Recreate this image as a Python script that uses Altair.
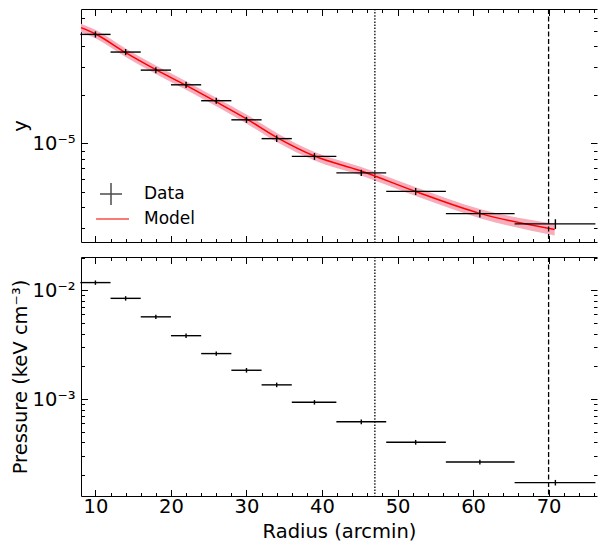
import altair as alt
import pandas as pd

# ---------------- data ----------------
radius = [10, 14, 18, 22, 26, 30, 34, 39, 45.2, 52.4, 60.9, 70.9]
radius_lo = [8, 12, 16, 20, 24, 28, 32, 36, 41.9, 48.5, 56.4, 65.5]
radius_hi = [12, 16, 20, 24, 28, 32, 36, 41.9, 48.5, 56.4, 65.5, 76.2]

y_data = [4.75e-5, 3.69e-5, 2.85e-5, 2.31e-5, 1.84e-5, 1.40e-5, 1.07e-5,
          8.3e-6, 6.56e-6, 5.03e-6, 3.66e-6, 3.16e-6]
y_err = [2.1e-6, 1.6e-6, 1.2e-6, 1.0e-6, 0.8e-6, 0.6e-6, 0.5e-6,
         0.4e-6, 0.3e-6, 0.25e-6, 0.2e-6, 0.22e-6]

pressure = [1.18e-2, 8.45e-3, 5.71e-3, 3.83e-3, 2.62e-3, 1.84e-3, 1.35e-3,
            9.33e-4, 6.17e-4, 4.0e-4, 2.63e-4, 1.70e-4]
pressure_err = [5.5e-4, 4.0e-4, 2.7e-4, 1.8e-4, 1.2e-4, 0.9e-4, 0.65e-4,
                0.45e-4, 0.3e-4, 0.2e-4, 0.13e-4, 0.1e-4]

model_radius = [8.09, 10, 14, 18, 22, 26, 30, 34, 39, 45, 52.5, 61, 70.8]
model_y = [5.23e-5, 4.78e-5, 3.66e-5, 2.87e-5, 2.29e-5, 1.81e-5, 1.42e-5,
           1.09e-5, 8.34e-6, 6.78e-6, 5.0e-6, 3.66e-6, 2.92e-6]
model_lo = [4.92e-5, 4.49e-5, 3.44e-5, 2.70e-5, 2.15e-5, 1.70e-5, 1.33e-5,
            1.02e-5, 7.84e-6, 6.37e-6, 4.69e-6, 3.42e-6, 2.68e-6]
model_hi = [5.54e-5, 5.07e-5, 3.88e-5, 3.04e-5, 2.43e-5, 1.92e-5, 1.51e-5,
            1.16e-5, 8.84e-6, 7.19e-6, 5.32e-6, 3.90e-6, 3.17e-6]

vline_dotted = [47.0]
vline_dashed = [70.0]

x_major = [10, 20, 30, 40, 50, 60, 70]
x_ticks = [10, 12, 14, 16, 18, 20, 22, 24, 26, 28, 30, 32, 34, 36, 38, 40, 42,
           44, 46, 48, 50, 52, 54, 56, 58, 60, 62, 64, 66, 68, 70, 72, 74, 76]
y_major = [1e-5]
y_ticks = [3e-6, 4e-6, 5e-6, 6e-6, 7e-6, 8e-6, 9e-6, 1e-5,
           2e-5, 3e-5, 4e-5, 5e-5, 6e-5]
p_major = [1e-3, 1e-2]
p_ticks = [2e-4, 3e-4, 4e-4, 5e-4, 6e-4, 7e-4, 8e-4, 9e-4, 1e-3,
           2e-3, 3e-3, 4e-3, 5e-3, 6e-3, 7e-3, 8e-3, 9e-3, 1e-2, 2e-2]

legend_names = ["Data", "Model"]

# ---------------- tables ----------------
data = pd.DataFrame({
    "r": radius, "r_lo": radius_lo, "r_hi": radius_hi,
    "y": y_data,
    "y_lo": [v - e for v, e in zip(y_data, y_err)],
    "y_hi": [v + e for v, e in zip(y_data, y_err)],
    "p": pressure,
    "p_lo": [v - e for v, e in zip(pressure, pressure_err)],
    "p_hi": [v + e for v, e in zip(pressure, pressure_err)],
    "series": "Data",
})
model = pd.DataFrame({"r": model_radius, "y": model_y, "lo": model_lo, "hi": model_hi})
vdot = pd.DataFrame({"r": vline_dotted})
vdash = pd.DataFrame({"r": vline_dashed})

# ---------------- styling ----------------
FONT = "DejaVu Sans"
W = 516
H_TOP = 233
H_BOT = 239
FS = 19.5
MAJ, MIN = 6.5, 3.5
X_TEST = "datum.value % 10 == 0"
Y_TEST = "abs(log(datum.value)/LN10 - round(log(datum.value)/LN10)) < 0.001"

xs = alt.Scale(domain=[8.09, 76.41], nice=False, zero=False)
ys_top = alt.Scale(type="log", domain=[2.44e-6, 6.83e-5], nice=False)
ys_bot = alt.Scale(type="log", domain=[1.28e-4, 2.03e-2], nice=False)


def tsize(test):
    return {"condition": {"test": test, "value": MAJ}, "value": MIN}


def x_axis(kind, H, show=False):
    if kind == "label":
        return alt.Axis(orient="bottom", values=x_major, ticks=False, domain=True,
                        domainColor="black", domainWidth=1,
                        labels=show, labelFontSize=FS, labelPadding=1, labelFlush=False,
                        title="Radius (arcmin)" if show else None,
                        titleFontSize=FS, titlePadding=7)
    if kind == "lower":
        return alt.Axis(orient="top", offset=-H, values=x_ticks, tickSize=tsize(X_TEST),
                        labels=False, domain=False, title=None)
    return alt.Axis(orient="bottom", offset=-H, values=x_ticks, tickSize=tsize(X_TEST),
                    labels=False, domain=True, domainColor="black", domainWidth=1, title=None)


def y_axis(kind, majors, ticks, expr, title):
    if kind == "label":
        return alt.Axis(orient="left", values=majors, ticks=False, domain=True,
                        domainColor="black", domainWidth=1,
                        labelExpr=expr, labelFontSize=FS, labelPadding=6,
                        title=title, titleFontSize=FS, titlePadding=2)
    orient = "right" if kind == "leftin" else "left"
    return alt.Axis(orient=orient, offset=-W, values=ticks, tickSize=tsize(Y_TEST),
                    labels=False, domain=False, title=None)


def vlines():
    dot = alt.Chart(vdot).mark_rule(color="black", strokeWidth=1.3, strokeDash=[1.5, 1.6]).encode(
        x=alt.X("r:Q", scale=xs, axis=None))
    dash = alt.Chart(vdash).mark_rule(color="black", strokeWidth=1.3, strokeDash=[5, 2.5]).encode(
        x=alt.X("r:Q", scale=xs, axis=None))
    return [dot, dash]


# ---------------- top panel ----------------
top_expr = "'10⁻⁵'"
band = alt.Chart(model).mark_area(color="#f7adbb", interpolate="monotone").encode(
    x=alt.X("r:Q", scale=xs, axis=x_axis("label", H_TOP, False)),
    y=alt.Y("lo:Q", scale=ys_top, axis=y_axis("label", y_major, y_ticks, top_expr, "y")),
    y2="hi:Q",
)
line = alt.Chart(model).mark_line(color="red", strokeWidth=1.5, interpolate="monotone").encode(
    x=alt.X("r:Q", scale=xs, axis=None),
    y=alt.Y("y:Q", scale=ys_top, axis=None),
)
xerr_t = alt.Chart(data).mark_rule(color="black", strokeWidth=1.4).encode(
    x=alt.X("r_lo:Q", scale=xs, axis=x_axis("lower", H_TOP)),
    x2="r_hi:Q",
    y=alt.Y("y:Q", scale=ys_top, axis=y_axis("leftin", y_major, y_ticks, top_expr, None)),
)
yerr_t = alt.Chart(data).mark_rule(color="black", strokeWidth=1.4).encode(
    x=alt.X("r:Q", scale=xs, axis=x_axis("upper", H_TOP)),
    y=alt.Y("y_lo:Q", scale=ys_top, axis=y_axis("rightin", y_major, y_ticks, top_expr, None)),
    y2="y_hi:Q",
)
leg = alt.Legend(title=None, orient="none", legendX=19, legendY=174)
legend_layer = alt.Chart(data).transform_filter("datum.r < 0").mark_point(
    filled=False, strokeWidth=1.5).encode(
    x=alt.X("r:Q", scale=xs, axis=None),
    y=alt.Y("y:Q", scale=ys_top, axis=None),
    color=alt.Color("series:N", scale=alt.Scale(domain=legend_names, range=["black", "red"]), legend=leg),
    shape=alt.Shape("series:N", scale=alt.Scale(domain=legend_names,
                    range=["M-1.1,0H1.1M0,-1.1V1.1", "M-1.49,0H1.8"]), legend=leg),
)
top = alt.layer(band, line, xerr_t, yerr_t, *vlines(), legend_layer).resolve_axis(
    x="independent", y="independent").properties(width=W, height=H_TOP)

# ---------------- bottom panel ----------------
bot_expr = "datum.value > 0.005 ? '10⁻²' : '10⁻³'"
ptitle = "Pressure (keV cm⁻³)"
xerr_b = alt.Chart(data).mark_rule(color="black", strokeWidth=1.4).encode(
    x=alt.X("r_lo:Q", scale=xs, axis=x_axis("label", H_BOT, True)),
    x2="r_hi:Q",
    y=alt.Y("p:Q", scale=ys_bot, axis=y_axis("label", p_major, p_ticks, bot_expr, ptitle)),
)
yerr_b = alt.Chart(data).mark_rule(color="black", strokeWidth=1.4).encode(
    x=alt.X("r:Q", scale=xs, axis=x_axis("lower", H_BOT)),
    y=alt.Y("p_lo:Q", scale=ys_bot, axis=y_axis("leftin", p_major, p_ticks, bot_expr, None)),
    y2="p_hi:Q",
)
carrier = alt.Chart(data).transform_filter("datum.r < 0").mark_point().encode(
    x=alt.X("r:Q", scale=xs, axis=x_axis("upper", H_BOT)),
    y=alt.Y("p:Q", scale=ys_bot, axis=y_axis("rightin", p_major, p_ticks, bot_expr, None)),
)
bottom = alt.layer(xerr_b, yerr_b, carrier, *vlines()).resolve_axis(
    x="independent", y="independent").properties(width=W, height=H_BOT)

chart = alt.vconcat(top, bottom, spacing=13).resolve_scale(
    color="independent", shape="independent"
).properties(
    padding={"top": 0, "left": 2, "right": 0, "bottom": 2}
).configure_view(
    stroke=None
).configure_axis(
    labelFont=FONT, titleFont=FONT, labelColor="black", titleColor="black",
    titleFontWeight="normal", grid=False, tickColor="black", tickWidth=1,
).configure_legend(
    labelFont=FONT, labelFontSize=17, labelColor="black", symbolSize=400,
    symbolStrokeWidth=1.5, labelOffset=22, rowPadding=0, padding=0,
)

chart.save("out.html", embed_options={"renderer": "svg", "actions": False})
